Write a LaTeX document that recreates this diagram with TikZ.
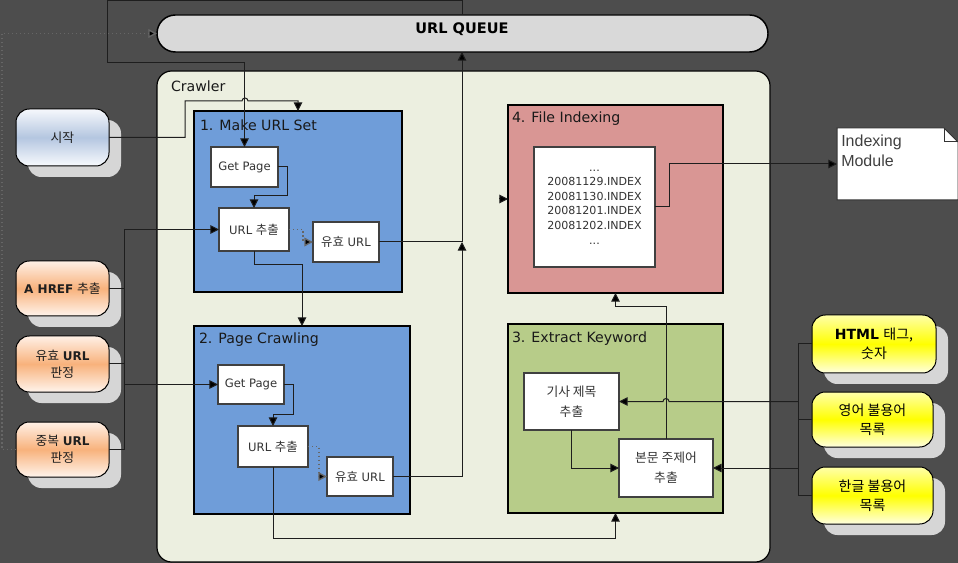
\documentclass[tikz,border=0pt]{standalone}
\usepackage{fontspec}
\setmainfont{DejaVu Sans}
\newfontfamily\kr{Noto Sans CJK KR}
\newfontfamily\arialf{Liberation Sans}
\usetikzlibrary{arrows.meta,shadows,calc}

\definecolor{bgc}{HTML}{4D4D4D}
\definecolor{crawlc}{HTML}{ECEFE0}
\definecolor{queuec}{HTML}{D9D9D9}
\definecolor{bluec}{HTML}{6F9DD9}
\definecolor{pinkc}{HTML}{D99694}
\definecolor{greenc}{HTML}{B7CC89}
\definecolor{shadowc}{HTML}{D6D6D6}
\definecolor{startT}{HTML}{F6F8FC}
\definecolor{startM}{HTML}{B4C6E0}
\definecolor{startB}{HTML}{F8FAFD}
\definecolor{orT}{HTML}{FFF0E6}
\definecolor{orM}{HTML}{F8B27C}
\definecolor{orB}{HTML}{FFF4EC}
\definecolor{yeT}{HTML}{FFFFA8}
\definecolor{yeM}{HTML}{FFFF00}
\definecolor{yeB}{HTML}{FFFFE0}
\definecolor{inktext}{HTML}{333333}
\definecolor{lnc}{HTML}{1E1E1E}

\tikzset{
  arr/.style={-{Triangle[length=6.5pt,width=6.5pt,fill=black]}},
  ln/.style={draw=lnc, line width=0.75pt},
  dotln/.style={draw=black!60, line width=1pt, dotted},
  base/.style={inner sep=0pt, outer sep=0pt, align=center},
  queuebox/.style={base, draw=black, line width=1.1pt, fill=queuec, rounded corners=13.8pt},
  crawlerbox/.style={base, draw=black, line width=0.9pt, fill=crawlc, rounded corners=11pt},
  stagebox/.style={base, draw=black, line width=1.1pt},
  bluebox/.style={stagebox, fill=bluec},
  pinkbox/.style={stagebox, fill=pinkc},
  greenbox/.style={stagebox, fill=greenc},
  innerbox/.style={base, draw=black!75, line width=1pt, fill=white, text=inktext, font=\fontsize{8.7}{12}\selectfont},
  ttl/.style={inner sep=0pt, outer sep=0pt, anchor=west, text=black!90, font=\fontsize{10.6}{12}\selectfont},
  lnode/.style={base, rounded corners=10pt, draw=black, line width=0.75pt,
     drop shadow={shadow xshift=9pt, shadow yshift=-8.25pt, fill=shadowc, opacity=1},
     text=black!88, font=\fontsize{9}{13}\selectfont},
  startn/.style={lnode, top color=startT, bottom color=startB, middle color=startM},
  orangen/.style={lnode, top color=orT, bottom color=orB, middle color=orM},
  yellown/.style={lnode, top color=yeT, bottom color=yeB, middle color=yeM, text=black, font=\fontsize{10.5}{14}\selectfont},
  ghost/.style={base, draw=none}
}

\newcommand\bx[7]{%
  \pgfmathsetmacro\bw{(#5-#3)*0.75}%
  \pgfmathsetmacro\bh{(#6-#4)*0.75}%
  \node[#1, minimum width=\bw pt, minimum height=\bh pt] (#2) at ({(#3+#5)/2},{(#4+#6)/2}) {#7};%
}
\newcommand\krl[1]{{\kr\fontsize{9.6}{13}\selectfont #1}}

\begin{document}
\begin{tikzpicture}[x=0.75pt,y=-0.75pt]
\useasboundingbox (0,0) rectangle (958,563);
\fill[bgc] (0,0) rectangle (958,563);

% main containers
\bx{queuebox}{queue}{157}{15}{768}{52}{}
\node[inner sep=0pt, font=\bfseries\fontsize{10.9}{12}\selectfont] (qlabel) at (462,29) {URL QUEUE};
\bx{crawlerbox}{crawler}{157}{71}{770}{562}{}
\node[ttl] (crawlerlbl) at (171,86) {Crawler};

% stage boxes
\bx{bluebox}{b1}{194}{111}{402}{292}{}
\bx{bluebox}{b2}{194}{326}{410}{514}{}
\bx{pinkbox}{b4}{508}{105}{723}{293}{}
\bx{greenbox}{b3}{508}{324}{723}{513}{}
\node[ttl] (b1lbl) at (200,125) {1. Make URL Set};
\node[ttl] (b2lbl) at (199,340) {2. Page Crawling};
\node[ttl] (b4lbl) at (512,119) {4. File Indexing};
\node[ttl] (b3lbl) at (512,339) {3. Extract Keyword};

% inner boxes
\bx{innerbox}{gp1}{211}{147}{278}{187}{Get Page}
\bx{innerbox}{url1}{219}{208}{289}{251}{URL {\kr\fontsize{9.3}{12}\selectfont 추출}}
\bx{innerbox}{val1}{313}{222}{379}{262}{{\kr\fontsize{9.3}{12}\selectfont 유효} URL}
\bx{innerbox}{gp2}{218}{365}{284}{404}{Get Page}
\bx{innerbox}{url2}{238}{426}{308}{467}{URL {\kr\fontsize{9.3}{12}\selectfont 추출}}
\bx{innerbox}{val2}{327}{457}{393}{496}{{\kr\fontsize{9.3}{12}\selectfont 유효} URL}
\bx{innerbox, font=\fontsize{8.3}{10.9}\selectfont}{idx}{534}{147}{655}{267}{...\\20081129.INDEX\\20081130.INDEX\\20081201.INDEX\\20081202.INDEX\\...}
\bx{innerbox, font=\kr\fontsize{9.6}{15}\selectfont}{title}{524}{373}{619}{430}{기사 제목\\추출}
\bx{innerbox, font=\kr\fontsize{9.6}{15}\selectfont}{body}{619}{439}{713}{497}{본문 주제어\\추출}

% indexing module (document shape)
\bx{ghost}{module}{837}{128}{958}{200}{}
\filldraw[fill=white, draw=black!80, line width=0.75pt]
  (module.north west) -- ($(module.north east)+(-14,0)$) -- ($(module.north east)+(0,14)$)
  -- (module.south east) -- (module.south west) -- cycle;
\draw[black!80, line width=0.75pt] ($(module.north east)+(-14,0)$) |- ($(module.north east)+(0,14)$);
\node[anchor=north west, inner sep=0pt, align=left, text=black!75, font=\arialf\fontsize{12}{15}\selectfont] (modtext) at (841,135) {Indexing\\Module};

% left nodes
\bx{startn}{start}{16}{109}{109}{166}{\krl{시작}}
\bx{orangen}{href}{16}{261}{109}{316}{\textbf{A HREF} \krl{추출}}
\bx{orangen}{validj}{16}{336}{109}{392}{\krl{유효} \textbf{URL}\\\krl{판정}}
\bx{orangen}{dup}{16}{422}{109}{477}{\krl{중복} \textbf{URL}\\\krl{판정}}

% right nodes
\bx{yellown}{html}{812}{315}{936}{373}{\textbf{HTML} {\kr 태그,}\\{\kr 숫자}}
\bx{yellown}{eng}{812}{392}{933}{447}{{\kr 영어 불용어}\\{\kr 목록}}
\bx{yellown}{kor}{812}{467}{933}{524}{{\kr 한글 불용어}\\{\kr 목록}}

% helper coordinates
\coordinate (qx) at (462,52);
\coordinate (c1) at (107,1);
\coordinate (lb) at (124,0);
\coordinate (rb) at (798,0);
\coordinate (ld) at (2,0);
\coordinate (stub) at (499,199);

% queue -> Get Page (set 1)
\draw[ln,arr] (queue.north -| qx) |- (c1) |- (gp1.north |- 0,63) -- (gp1.north);
% dotted feedback to queue
\draw[dotln,arr] (dup.west) -- (dup.west -| ld) |- (queue.west);
% start -> box 1 with line hop
\draw[ln,arr] (start.east) -| (185,101) -- (242,101) arc[start angle=180,end angle=0,radius=2.25pt] -- (b1.north |- 0,101) -- (b1.north);
% inside box 1
\draw[ln,arr] (gp1.east) -| (287,196) -| (url1.north);
\draw[dotln,arr] (url1.east) -| ($(val1.west)+(-10,0)$) -- (val1.west);
\draw[ln,arr] (val1.east) -| (qx);
\draw[ln,arr] (url1.south) -- ++(0,14) -| (b2.north);
% inside box 2
\draw[ln,arr] (gp2.east) -| (293,414) -| (url2.north);
\draw[dotln,arr] (url2.east) -| ($(val2.west)+(-8,0)$) -- (val2.west);
\draw[ln,arr] (val2.east) -| (val1.east -| qx);
\draw[ln,arr] (url2.south) |- (b3.south |- 0,538) -- (b3.south);
% left bus
\draw[ln] (dup.east) -| (lb |- url1.west);
\draw[ln] (href.east) -- (href.east -| lb);
\draw[ln] (validj.east) -- (validj.east -| lb);
\draw[ln,arr] (lb |- url1.west) -- (url1.west);
\draw[ln,arr] (lb |- gp2.west) -- (gp2.west);
% box 3 internals
\draw[ln,arr] (title.south) |- (body.west);
\draw[ln,arr] (body.north) -- ++(0,-132) -| (b4.south);
% right bus
\draw[ln] (html.west) -| (rb |- kor.west) -- (kor.west);
\draw[ln] (eng.west) -- (eng.west -| rb);
\draw[ln,arr] (rb |- title.east) -- (669,401.5) arc[start angle=0,end angle=180,radius=2.25pt] -- (title.east);
\draw[ln,arr] (rb |- body.east) -- (body.east);
% index -> module
\draw[ln,arr] (idx.east) -- ++(14,0) |- (module.west);
% small arrow into box 4
\draw[ln,arr] (stub) -- (stub -| b4.west);
\end{tikzpicture}
\end{document}
